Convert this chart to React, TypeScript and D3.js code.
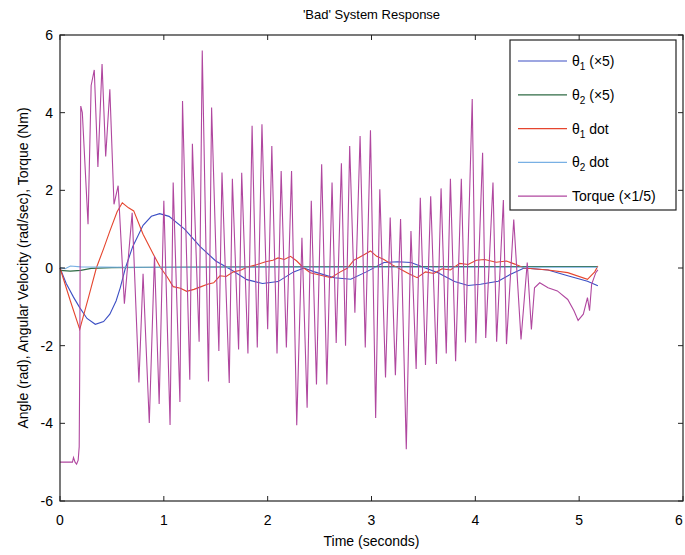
import React from 'react';
import * as d3 from 'd3';

// time axis ticks and value axis ticks
const xTicks = [0, 1, 2, 3, 4, 5, 6];
const yTicks = [-6, -4, -2, 0, 2, 4, 6];

// theta1 (x5): [time, value]
const theta1: [number, number][] = [
  [0, 0], [0.06, -0.4], [0.13, -0.75], [0.19, -1.02], [0.26, -1.3], [0.34, -1.45],
  [0.42, -1.38], [0.48, -1.19], [0.54, -0.85], [0.58, -0.51], [0.63, 0], [0.7, 0.55],
  [0.8, 1.1], [0.88, 1.33], [0.96, 1.4], [1.05, 1.33], [1.2, 1.0], [1.35, 0.55],
  [1.5, 0.18], [1.64, -0.03], [1.8, -0.3], [1.95, -0.4], [2.1, -0.35], [2.25, -0.1],
  [2.35, 0.0], [2.45, -0.1], [2.64, -0.25], [2.8, -0.29], [2.95, -0.1], [3.12, 0.14],
  [3.25, 0.16], [3.38, 0.14], [3.5, 0.02], [3.64, -0.12], [3.8, -0.35], [3.93, -0.45],
  [4.05, -0.42], [4.22, -0.34], [4.34, -0.16], [4.47, 0.0], [4.7, -0.05], [4.89, -0.2],
  [5.08, -0.34], [5.18, -0.46],
];

// theta2 (x5)
const theta2: [number, number][] = [
  [0, -0.06], [0.1, -0.08], [0.2, -0.06], [0.3, -0.01], [0.5, 0.01], [1.0, 0.02],
  [2.0, 0.03], [3.0, 0.04], [4.0, 0.04], [5.18, 0.04],
];

// theta1 dot
const theta1Dot: [number, number][] = [
  [0, 0], [0.1, -0.85], [0.19, -1.58], [0.27, -0.8], [0.35, 0.0], [0.42, 0.5],
  [0.48, 0.95], [0.55, 1.45], [0.6, 1.68], [0.66, 1.55], [0.71, 1.47], [0.8, 0.87],
  [0.9, 0.35], [0.97, 0.0], [1.03, -0.22], [1.09, -0.48], [1.16, -0.52], [1.22, -0.6],
  [1.29, -0.55], [1.36, -0.48], [1.42, -0.42], [1.48, -0.38], [1.54, -0.2], [1.6, -0.22],
  [1.67, -0.1], [1.74, -0.06], [1.8, 0.02], [1.9, 0.09], [1.98, 0.16], [2.05, 0.2],
  [2.1, 0.26], [2.16, 0.22], [2.22, 0.3], [2.28, 0.18], [2.34, 0.02], [2.41, -0.12],
  [2.5, -0.18], [2.61, -0.25], [2.7, -0.1], [2.77, 0.0], [2.83, 0.2], [2.88, 0.27],
  [2.94, 0.36], [2.99, 0.44], [3.05, 0.3], [3.12, 0.22], [3.2, 0.08], [3.28, -0.03],
  [3.36, -0.15], [3.44, -0.25], [3.52, -0.1], [3.6, -0.14], [3.68, -0.02], [3.76, -0.05],
  [3.85, 0.12], [3.93, 0.09], [4.01, 0.2], [4.09, 0.22], [4.2, 0.15], [4.3, 0.18],
  [4.38, 0.1], [4.47, 0.0], [4.7, -0.05], [4.89, -0.12], [5.08, -0.29], [5.15, -0.1],
  [5.18, 0.05],
];

// theta2 dot
const theta2Dot: [number, number][] = [
  [0, 0.01], [0.05, -0.02], [0.1, 0.05], [0.2, 0.03], [0.6, 0.02], [1.5, 0.02],
  [3.0, 0.02], [4.5, 0.02], [5.18, 0.02],
];

// torque (x1/5): troughs and peaks of the chattering signal
const torque: [number, number][] = [
  [0, -5.0], [0.12, -5.0], [0.13, -4.88], [0.145, -5.0], [0.16, -5.05], [0.175, -4.95],
  [0.185, -4.6], [0.19, -2.6], [0.2, 4.17], [0.215, 4.0], [0.27, 1.13], [0.3, 4.7],
  [0.33, 5.1], [0.365, 2.6], [0.405, 5.25], [0.44, 2.87], [0.48, 4.6], [0.52, 1.64],
  [0.56, 2.12], [0.62, -0.92], [0.695, 1.42],
  [0.76, -2.95], [0.8, -0.15], [0.86, -3.99], [0.91, 0.3], [0.955, -3.5], [1.0, 1.73],
  [1.06, -4.04], [1.09, 2.2], [1.155, -3.45], [1.18, 4.3], [1.25, -2.88], [1.275, 3.2],
  [1.34, -1.9], [1.37, 5.6], [1.43, -2.92], [1.46, 4.13], [1.53, -2.14], [1.56, 2.46],
  [1.63, -2.96], [1.66, 2.3], [1.72, -2.1], [1.75, 2.45], [1.81, -2.2], [1.85, 3.66],
  [1.9, -2.05], [1.945, 3.7], [2.0, -1.58], [2.04, 3.14], [2.09, -2.2], [2.13, 2.5],
  [2.18, -2.05], [2.23, 2.5], [2.28, -4.05], [2.33, 0.78], [2.38, -3.6], [2.42, 1.73],
  [2.47, -3.0], [2.52, 2.67], [2.57, -3.0], [2.62, 2.2], [2.66, -1.93], [2.71, 2.7],
  [2.75, -2.0], [2.79, 3.14], [2.84, -1.15], [2.89, 3.4], [2.94, -2.05], [2.99, 3.55],
  [3.04, -3.86], [3.08, 2.03], [3.135, -2.82], [3.18, 1.3], [3.23, -2.76], [3.28, 1.26],
  [3.335, -4.67], [3.38, 0.95], [3.43, -2.6], [3.47, 1.81], [3.52, -2.5], [3.57, 1.85],
  [3.625, -2.47], [3.67, 2.05], [3.72, -2.2], [3.76, 2.3], [3.81, -2.4], [3.865, 2.3],
  [3.905, -1.92], [3.97, 4.35], [4.005, -1.94], [4.07, 2.97], [4.1, -1.8], [4.17, 2.2],
  [4.205, -1.9], [4.27, 1.75], [4.3, -1.96], [4.37, 1.25], [4.44, -1.84], [4.5, 0.14],
  [4.54, -1.58], [4.57, -0.51], [4.62, -0.38], [4.7, -0.51], [4.79, -0.59], [4.89, -0.81],
  [4.95, -1.1], [4.99, -1.35], [5.04, -1.19], [5.08, -0.76], [5.1, -1.1], [5.12, -0.42],
  [5.16, -0.12], [5.18, -0.05],
];

const legendNames = ['θ1 (×5)', 'θ2 (×5)', 'θ1 dot', 'θ2 dot', 'Torque (×1/5)'];
const colors = ['#3c4fc4', '#2f6b45', '#e5452e', '#78b0e4', '#b0479f'];

const W = 685;
const H = 555;
const margin = { left: 60, right: 2, top: 35, bottom: 54 };
const font = 'Liberation Sans, Arial, sans-serif';

const App = () => {
  const x = d3.scaleLinear().domain([0, 6]).range([margin.left, W - margin.right]);
  const y = d3.scaleLinear().domain([-6, 6]).range([H - margin.bottom, margin.top]);
  const line = d3.line<[number, number]>().x(d => x(d[0])).y(d => y(d[1]));

  const series = [theta1, theta2, theta1Dot, theta2Dot, torque];
  const x0 = x(0), x1 = x(6), y0 = y(-6), y1 = y(6);

  // legend label split into theta + subscript + rest
  const legendText = (name: string) => {
    if (name.startsWith('θ')) {
      return (
        <>
          <tspan>θ</tspan>
          <tspan dy={4} fontSize={10}>{name[1]}</tspan>
          <tspan dy={-4}>{name.slice(2)}</tspan>
        </>
      );
    }
    return name;
  };

  return (
    <svg width={W} height={H} style={{ position: 'absolute', left: 0, top: 0, background: '#fff' }}
      fontFamily={font}>
      <text x={(x0 + x1) / 2} y={19} textAnchor="middle" fontSize={13}>'Bad' System Response</text>

      {series.map((s, i) => (
        <path key={i} d={line(s) || ''} fill="none" stroke={colors[i]} strokeWidth={1.1} />
      ))}

      {/* box */}
      <rect x={x0} y={y1} width={x1 - x0} height={y0 - y1} fill="none" stroke="#222" strokeWidth={1.2} />

      {xTicks.map(t => (
        <g key={'x' + t}>
          <line x1={x(t)} x2={x(t)} y1={y0} y2={y0 - 5} stroke="#222" />
          <line x1={x(t)} x2={x(t)} y1={y1} y2={y1 + 5} stroke="#222" />
          {/* last label pulled in a little so it stays on the page */}
          <text x={Math.min(x(t), W - 6)} y={525} textAnchor="middle" fontSize={14}>{t}</text>
        </g>
      ))}
      {yTicks.map(t => (
        <g key={'y' + t}>
          <line x1={x0} x2={x0 + 5} y1={y(t)} y2={y(t)} stroke="#222" />
          <line x1={x1} x2={x1 - 5} y1={y(t)} y2={y(t)} stroke="#222" />
          <text x={53} y={y(t)} dy="0.36em" textAnchor="end" fontSize={14}>{t}</text>
        </g>
      ))}

      <text x={(x0 + x1) / 2} y={546} textAnchor="middle" fontSize={14}>Time (seconds)</text>
      <text transform={`translate(28,${(y0 + y1) / 2}) rotate(-90)`} textAnchor="middle" fontSize={14}>
        Angle (rad), Angular Velocity (rad/sec), Torque (Nm)
      </text>

      {/* legend */}
      <rect x={510} y={40} width={166} height={170} fill="#fff" stroke="#222" strokeWidth={1.2} />
      {legendNames.map((n, i) => {
        const ly = 61 + i * 33.8;
        return (
          <g key={n}>
            <line x1={518} x2={567} y1={ly} y2={ly} stroke={colors[i]} strokeWidth={1.2} />
            <text x={572} y={ly} dy="0.36em" fontSize={14}>{legendText(n)}</text>
          </g>
        );
      })}
    </svg>
  );
};

export default App;
